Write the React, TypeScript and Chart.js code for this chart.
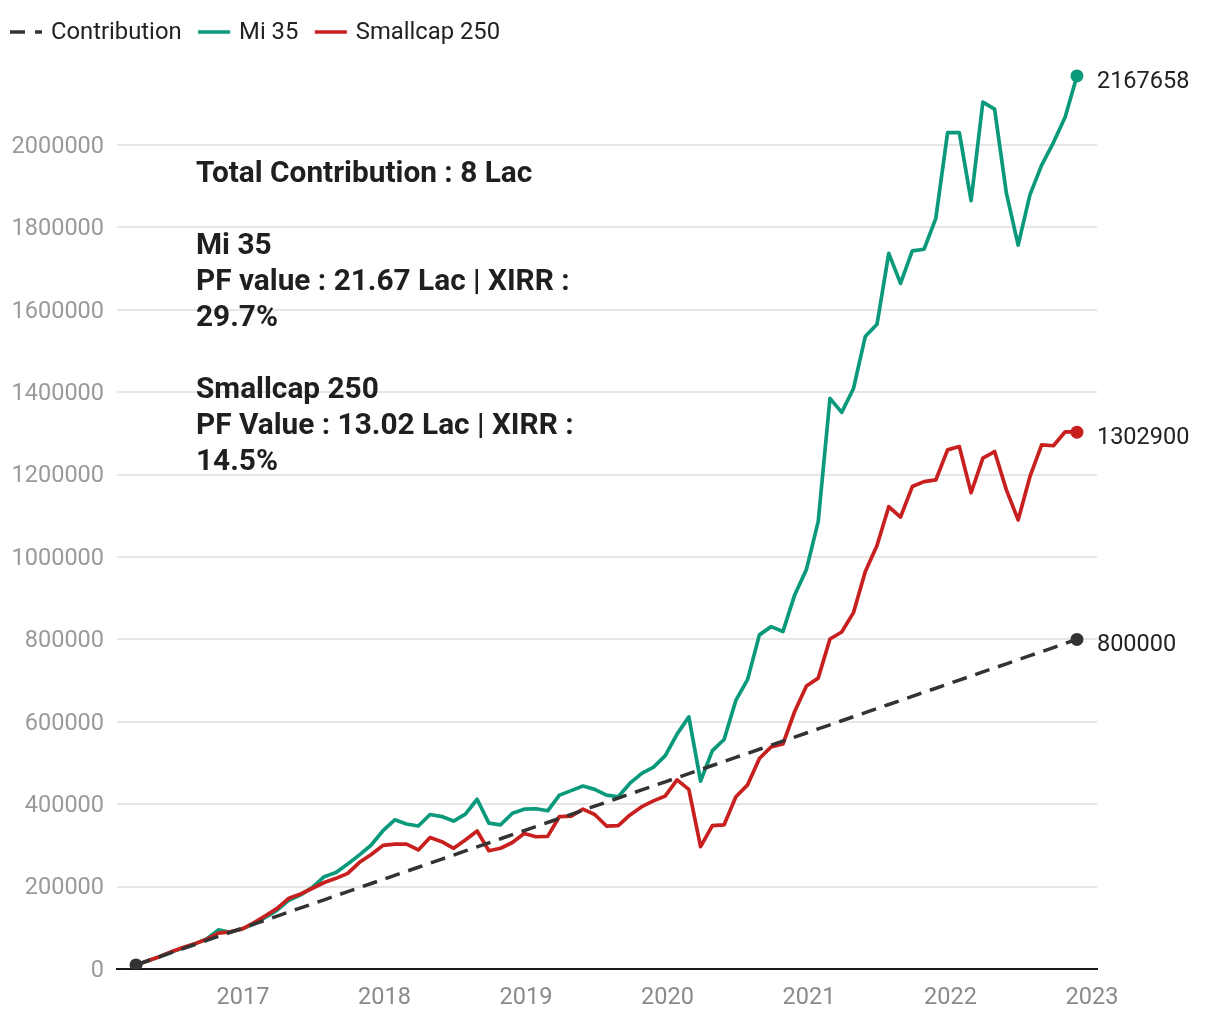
import React, { useEffect, useRef } from "react";
import { Chart, registerables } from "chart.js";

Chart.register(...registerables);

const seriesNames = ["Contribution", "Mi 35", "Smallcap 250"];
const seriesColors = ["#333333", "#0a9a7b", "#c81f1f"];

const contribution = [
  10000, 19875, 29750, 39625, 49500, 59375, 69250, 79125, 89000, 98875,
  108750, 118625, 128500, 138375, 148250, 158125, 168000, 177875, 187750, 197625,
  207500, 217375, 227250, 237125, 247000, 256875, 266750, 276625, 286500, 296375,
  306250, 316125, 326000, 335875, 345750, 355625, 365500, 375375, 385250, 395125,
  405000, 414875, 424750, 434625, 444500, 454375, 464250, 474125, 484000, 493875,
  503750, 513625, 523500, 533375, 543250, 553125, 563000, 572875, 582750, 592625,
  602500, 612375, 622250, 632125, 642000, 651875, 661750, 671625, 681500, 691375,
  701250, 711125, 721000, 730875, 740750, 750625, 760500, 770375, 780250, 790125,
  800000,
];

const mi35 = [
  10000, 20000, 30000, 41000, 51000, 61000, 73000, 95000, 89000, 97000,
  109000, 125000, 143000, 167000, 180000, 198000, 224000, 234000, 255000, 277000,
  301000, 336000, 362000, 352000, 347000, 375000, 370000, 359000, 376000, 412000,
  354000, 350000, 378000, 388000, 389000, 384000, 422000, 433000, 444000, 436000,
  422000, 418000, 451000, 475000, 490000, 518000, 570000, 612000, 456000, 530000,
  557000, 652000, 703000, 811000, 831000, 819000, 908000, 970000, 1086000, 1385000,
  1351000, 1409000, 1535000, 1565000, 1737000, 1664000, 1743000, 1747000, 1822000, 2030000,
  2030000, 1865000, 2104000, 2087000, 1883000, 1757000, 1879000, 1951000, 2006000, 2068000,
  2167658,
];

const smallcap250 = [
  10000, 20000, 30000, 42000, 52000, 61000, 72000, 87000, 90000, 97000,
  112000, 129000, 147000, 172000, 182000, 196000, 210000, 220000, 232000, 259000,
  278000, 300000, 303000, 303000, 289000, 319000, 309000, 293000, 313000, 335000,
  287000, 293000, 307000, 329000, 321000, 322000, 370000, 371000, 388000, 375000,
  347000, 348000, 374000, 394000, 408000, 420000, 459000, 436000, 297000, 348000,
  350000, 418000, 447000, 511000, 539000, 546000, 625000, 687000, 706000, 801000,
  818000, 865000, 964000, 1028000, 1122000, 1097000, 1171000, 1183000, 1187000, 1260000,
  1268000, 1156000, 1240000, 1256000, 1163000, 1090000, 1195000, 1272000, 1270000, 1304000,
  1302900,
];

const xTickYears = [2017, 2018, 2019, 2020, 2021, 2022, 2023];
const yTickValues = [0, 200000, 400000, 600000, 800000, 1000000, 1200000, 1400000, 1600000, 1800000, 2000000];

const annotationLines = [
  "Total Contribution : 8 Lac",
  "",
  "Mi 35",
  "PF value : 21.67 Lac | XIRR :",
  "29.7%",
  "",
  "Smallcap 250",
  "PF Value : 13.02 Lac | XIRR :",
  "14.5%",
];

// first data point (April 2016) as decimal year, and monthly spacing
const START_YEAR = 2016.244;
const MONTH_STEP = 0.08312;

const FONT = "Roboto";

export default function App() {
  const ref = useRef<HTMLCanvasElement>(null);

  useEffect(() => {
    if (!ref.current) return;
    const toXY = (arr: number[]) => arr.map((v, i) => ({ x: START_YEAR + i * MONTH_STEP, y: v }));
    const lastIdx = contribution.length - 1;

    const overlay = {
      id: "overlay",
      afterDraw(chart: any) {
        const ctx = chart.ctx as CanvasRenderingContext2D;
        ctx.save();
        // legend
        let x = 2;
        const ly = 24;
        ctx.font = `23.8px ${FONT}`;
        ctx.textBaseline = "middle";
        ctx.textAlign = "left";
        seriesNames.forEach((name, i) => {
          ctx.save();
          ctx.strokeStyle = seriesColors[i];
          ctx.lineWidth = 3.5;
          ctx.lineCap = "butt";
          ctx.setLineDash(i === 0 ? [15, 10] : []);
          ctx.beginPath();
          ctx.moveTo(x, ly);
          ctx.lineTo(x + 32, ly);
          ctx.stroke();
          ctx.restore();
          ctx.fillStyle = "#222222";
          ctx.fillText(name, x + 41, ly + 1);
          x += 41 + ctx.measureText(name).width + 16.5;
        });

        // annotation
        ctx.font = `bold 29.8px ${FONT}`;
        ctx.fillStyle = "#1f1f1f";
        ctx.textBaseline = "middle";
        annotationLines.forEach((line, i) => {
          if (line) ctx.fillText(line, 188, 166.5 + i * 36);
        });

        // end labels
        ctx.font = `23.5px ${FONT}`;
        ctx.fillStyle = "#222222";
        chart.data.datasets.forEach((ds: any, di: number) => {
          const meta = chart.getDatasetMeta(di);
          const pt = meta.data[meta.data.length - 1];
          const v = ds.data[ds.data.length - 1].y;
          ctx.fillText(String(v), pt.x + 20, pt.y + 6);
        });
        ctx.restore();
      },
    };

    const chart = new Chart(ref.current, {
      type: "line",
      data: {
        datasets: [
          {
            label: seriesNames[0],
            data: toXY(contribution),
            borderColor: seriesColors[0],
            backgroundColor: seriesColors[0],
            borderWidth: 3.5,
            borderDash: [15, 9],
            pointRadius: (c: any) => (c.dataIndex === 0 || c.dataIndex === lastIdx ? 6.5 : 0),
            pointBorderWidth: 0,
            pointBackgroundColor: seriesColors[0],
            order: 0,
          },
          {
            label: seriesNames[1],
            data: toXY(mi35),
            borderColor: seriesColors[1],
            backgroundColor: seriesColors[1],
            borderWidth: 3.7,
            borderJoinStyle: "round",
            pointRadius: (c: any) => (c.dataIndex === lastIdx ? 6.5 : 0),
            pointBorderWidth: 0,
            pointBackgroundColor: seriesColors[1],
            order: 2,
          },
          {
            label: seriesNames[2],
            data: toXY(smallcap250),
            borderColor: seriesColors[2],
            backgroundColor: seriesColors[2],
            borderWidth: 3.7,
            borderJoinStyle: "round",
            pointRadius: (c: any) => (c.dataIndex === lastIdx ? 6.5 : 0),
            pointBorderWidth: 0,
            pointBackgroundColor: seriesColors[2],
            order: 1,
          },
        ],
      },
      options: {
        responsive: false,
        animation: false,
        events: [],
        layout: { padding: { top: 54.6, right: 115, left: 0, bottom: 0 } },
        plugins: {
          legend: { display: false },
          tooltip: { enabled: false },
        },
        scales: {
          x: {
            type: "linear",
            min: 2016.1095,
            max: 2023.0353,
            afterBuildTicks: (s: any) => {
              s.ticks = xTickYears.map((v) => ({ value: v }));
            },
            afterFit: (s: any) => {
              s.height = 43;
            },
            grid: { display: false, drawTicks: false },
            border: { display: true, color: "#1a1a1a", width: 2 },
            ticks: {
              color: "#8a8a8a",
              font: { family: FONT, size: 23.5 },
              padding: 15,
              maxRotation: 0,
              autoSkip: false,
              callback: (v: any) => String(v),
            },
          },
          y: {
            type: "linear",
            min: 0,
            max: 2200000,
            afterBuildTicks: (s: any) => {
              s.ticks = yTickValues.map((v) => ({ value: v }));
            },
            afterFit: (s: any) => {
              s.width = 109;
            },
            grid: {
              drawTicks: false,
              lineWidth: 2,
              color: (c: any) => (c.tick && c.tick.value === 0 ? "rgba(0,0,0,0)" : "#e6e6e6"),
            },
            border: { display: false },
            ticks: {
              color: "#9a9a9a",
              font: { family: FONT, size: 23.5 },
              padding: 13,
              labelOffset: 2,
              autoSkip: false,
              callback: (v: any) => String(v),
            },
          },
        },
      },
      plugins: [overlay],
    } as any);

    return () => chart.destroy();
  }, []);

  return (
    <canvas
      ref={ref}
      width={1204}
      height={1004}
      style={{ display: "block", width: "1204px", height: "1004px" }}
    />
  );
}
